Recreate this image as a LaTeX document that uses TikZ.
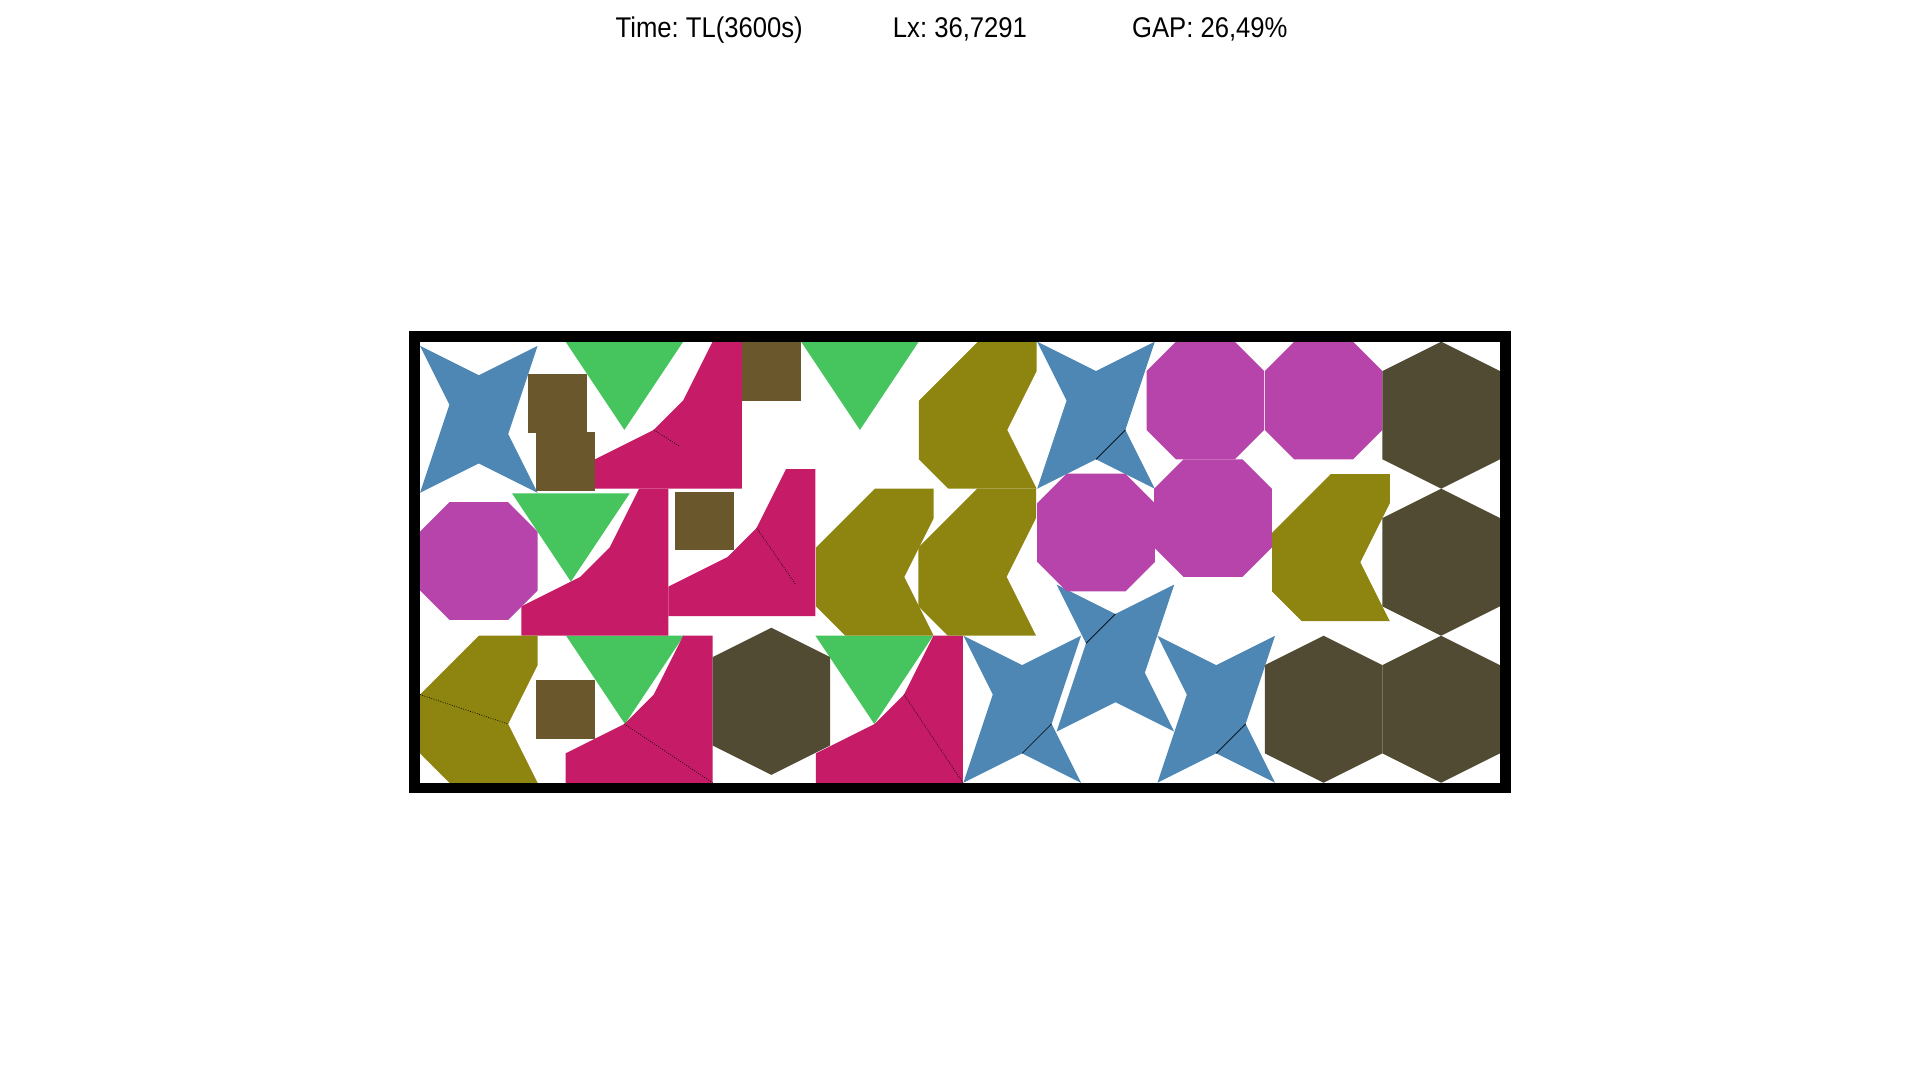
\documentclass[tikz,border=0pt]{standalone}
\usepackage{fontspec}
\setmainfont{Liberation Sans}
\definecolor{starblue}{RGB}{78,135,180}
\definecolor{sqbrown}{RGB}{107,87,44}
\definecolor{trigreen}{RGB}{70,196,94}
\definecolor{magred}{RGB}{198,27,102}
\definecolor{olivec}{RGB}{142,133,16}
\definecolor{octpurple}{RGB}{182,68,170}
\definecolor{hexdark}{RGB}{81,75,52}
\tikzset{
  starpc/.pic={\fill[starblue] (0,0)--(2,1)--(4,0)--(3,2)--(4,5)--(2,4)--(0,5)--(1,3)--cycle;},
  sqpc/.pic={\fill[sqbrown] (0,0) rectangle (2,2);},
  tripc/.pic={\fill[trigreen] (0,3)--(4,3)--(2,0)--cycle;},
  magpc/.pic={\fill[magred] (0,0)--(5,0)--(5,5)--(4,5)--(3,3)--(2,2)--(0,1)--cycle;},
  olvpc/.pic={\fill[olivec] (1,0)--(4,0)--(3,2)--(4,4)--(4,5)--(2,5)--(0,3)--(0,1)--cycle;},
  octpc/.pic={\fill[octpurple] (1,0)--(3,0)--(4,1)--(4,3)--(3,4)--(1,4)--(0,3)--(0,1)--cycle;},
  hexpc/.pic={\fill[hexdark] (2,0)--(4,1)--(4,4)--(2,5)--(0,4)--(0,1)--cycle;},
  cutline/.style={black, line width=0.7pt, dash pattern=on 0.8pt off 1.6pt},
  seamline/.style={black, line width=0.6pt},
  title/.style={font=\fontsize{28.5}{30}\selectfont\frenchspacing, xscale=0.9, anchor=base, inner sep=0pt}
}
\begin{document}
\begin{tikzpicture}[x=1pt,y=-1pt]
\useasboundingbox (0,0) rectangle (1920,1080);
\fill[white] (0,0) rectangle (1920,1080);
\node[title] (time) at (709.2,37) {Time: TL(3600s)};
\node[title] (lx) at (960,37) {Lx: 36,7291};
\node[title] (gap) at (1209.8,37) {GAP: 26,49\%};
\begin{scope}[shift={(420,782.75)}, x=29.404pt, y=29.404pt]
  \clip (0,0) rectangle (36.7291,15);
  % stars
  \pic at (0,9.86) {starpc};
  \pic at (20.99,10) {starpc};
  \pic at (21.65,1.74) {starpc};
  \pic at (18.48,0) {starpc};
  \pic at (25.08,0) {starpc};
  % squares
  \pic at (3.68,11.91) {sqpc};
  \pic at (3.95,9.92) {sqpc};
  \pic at (10.96,13) {sqpc};
  \pic at (8.67,7.9) {sqpc};
  \pic at (3.95,1.5) {sqpc};
  % triangles
  \pic at (4.95,12) {tripc};
  \pic at (12.96,12) {tripc};
  \pic at (3.13,6.84) {tripc};
  \pic at (4.97,2) {tripc};
  \pic at (13.45,2) {tripc};
  % magenta pieces
  \pic at (5.95,10) {magpc};
  \pic at (3.45,5) {magpc};
  \pic at (8.45,5.67) {magpc};
  \pic at (4.95,0) {magpc};
  \pic at (13.46,0) {magpc};
  % olive pieces
  \pic at (16.97,10) {olvpc};
  \pic at (13.47,5) {olvpc};
  \pic at (16.95,5) {olvpc};
  \pic at (28.98,5.5) {olvpc};
  \pic at (0,0) {olvpc};
  % octagons
  \pic at (24.71,11) {octpc};
  \pic at (28.73,11) {octpc};
  \pic at (0,5.54) {octpc};
  \pic at (20.99,6.51) {octpc};
  \pic at (24.97,7) {octpc};
  % hexagons
  \pic at (32.73,10) {hexpc};
  \pic at (32.73,5) {hexpc};
  \pic at (9.95,0.27) {hexpc};
  \pic at (28.73,0) {hexpc};
  \pic at (32.73,0) {hexpc};
  % internal cut lines
  \draw[cutline] (7.95,12) -- (8.84,11.43);
  \draw[cutline] (11.45,8.67) -- (12.78,6.73);
  \draw[cutline] (6.95,2) -- (9.95,0);
  \draw[cutline] (16.46,3) -- (18.46,0);
  \draw[cutline] (0,3) -- (3,2);
  \draw[seamline] (23.99,12) -- (22.99,11);
  \draw[seamline] (23.65,5.74) -- (22.65,4.74);
  \draw[seamline] (21.48,2) -- (20.48,1);
  \draw[seamline] (28.08,2) -- (27.08,1);
\end{scope}
\draw[line width=10.7pt] (414.5,336.3) rectangle (1505.5,787.9);
\end{tikzpicture}
\end{document}
